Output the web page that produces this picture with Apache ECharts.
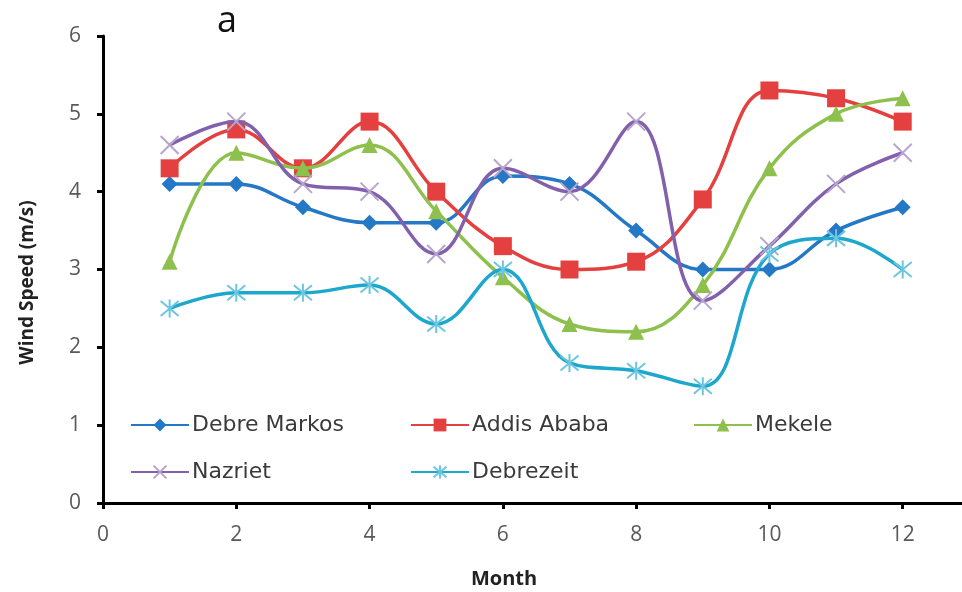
<!DOCTYPE html>
<html>
<head>
<meta charset="utf-8">
<script src="https://cdn.jsdelivr.net/npm/echarts@6/dist/echarts.min.js"></script>
<style>
html,body{margin:0;padding:0;background:#fff;}
#chart{width:962px;height:592px;}
</style>
</head>
<body>
<div id="chart"></div>
<script>
const months = [1,2,3,4,5,6,7,8,9,10,11,12];
const seriesNames = ['Debre Markos','Addis Ababa','Mekele','Nazriet','Debrezeit'];
const debreMarkos = [4.1,4.1,3.8,3.6,3.6,4.2,4.1,3.5,3.0,3.0,3.5,3.8];
const addisAbaba  = [4.3,4.8,4.3,4.9,4.0,3.3,3.0,3.1,3.9,5.3,5.2,4.9];
const mekele      = [3.1,4.5,4.3,4.6,3.75,2.9,2.3,2.2,2.8,4.3,5.0,5.2];
const nazriet     = [4.6,4.9,4.1,4.0,3.2,4.3,4.0,4.9,2.6,3.3,4.1,4.5];
const debrezeit   = [2.5,2.7,2.7,2.8,2.3,3.0,1.8,1.7,1.5,3.2,3.4,3.0];
const yTicks = [0,1,2,3,4,5,6];
const xTicks = [0,2,4,6,8,10,12];

const values = [debreMarkos, addisAbaba, mekele, nazriet, debrezeit];
const lineColors = ['#2478c6','#e3403f','#8dc04c','#8260ac','#1ea7cc'];
const markerColors = ['#2478c6','#e3403f','#8dc04c','#b7a4cf','#6cc6e0'];
const FONT = 'Open Sans';
const xPath = 'path://M0,0L10,10M10,0L0,10';
const starPath = 'path://M0,0L10,10M10,0L0,10M5,-1L5,11';
const symbols = ['diamond','rect','triangle',xPath,starPath];
const symSizes = [16,18,16,18,18];

const series = seriesNames.map((name,i)=>{
  const isStroke = i>=3;
  return {
    name: name,
    type: 'line',
    smooth: 0.4,
    data: months.map((m,j)=>[m, values[i][j]]),
    symbol: symbols[i],
    symbolSize: symSizes[i],
    showAllSymbol: true,
    lineStyle: {color: lineColors[i], width: 3.5},
    itemStyle: isStroke
      ? {color: 'none', borderColor: markerColors[i], borderWidth: 2}
      : {color: markerColors[i], borderWidth: 0},
    z: 2 + i
  };
});

const legendPos = [
  {left:130, top:414},
  {left:410, top:414},
  {left:693, top:414},
  {left:130, top:461},
  {left:410, top:461}
];
const legends = seriesNames.map((n,i)=>({
  data:[n],
  left: legendPos[i].left,
  top: legendPos[i].top,
  padding: 0,
  itemWidth: 58,
  itemHeight: 16,
  itemGap: 6,
  textStyle:{fontFamily:'DejaVu Sans', fontSize:22, color:'#3a3a3a', padding:[0,0,0,-2]},
  selectedMode:false
}));

const chart = echarts.init(document.getElementById('chart'), null, {renderer:'canvas'});
chart.setOption({
  animation:false,
  backgroundColor:'#fff',
  title:[
    {text:'a', left:217, top:4, padding:0, textStyle:{fontFamily:FONT, fontSize:36, fontWeight:'normal', color:'#111'}},
    {text:'Month', left:504, top:569, padding:0, textAlign:'center', textStyle:{fontFamily:FONT, fontSize:20, fontWeight:'bold', color:'#222'}}
  ],
  legend: legends,
  grid:{left:103, top:36, bottom:89, right:-74, outerBoundsMode:'none', containLabel:false},
  xAxis:{
    type:'value', min:0, max:14, interval:2,
    axisLine:{show:true, lineStyle:{color:'#000', width:3}},
    axisTick:{show:true, length:6, lineStyle:{color:'#000', width:3}},
    axisLabel:{fontFamily:FONT, fontSize:21, color:'#595959', margin:22},
    splitLine:{show:false}
  },
  yAxis:{
    type:'value', min:0, max:6, interval:1,
    name:'Wind Speed (m/s)', nameLocation:'middle', nameGap:66, nameRotate:90,
    nameTextStyle:{fontFamily:FONT, fontSize:19, fontWeight:'bold', color:'#222', padding:[0,26,0,0]},
    axisLine:{show:true, lineStyle:{color:'#000', width:3}},
    axisTick:{show:true, length:6, lineStyle:{color:'#000', width:3}},
    axisLabel:{fontFamily:FONT, fontSize:21, color:'#595959', margin:22},
    splitLine:{show:false}
  },
  series: series
});
</script>
</body>
</html>
